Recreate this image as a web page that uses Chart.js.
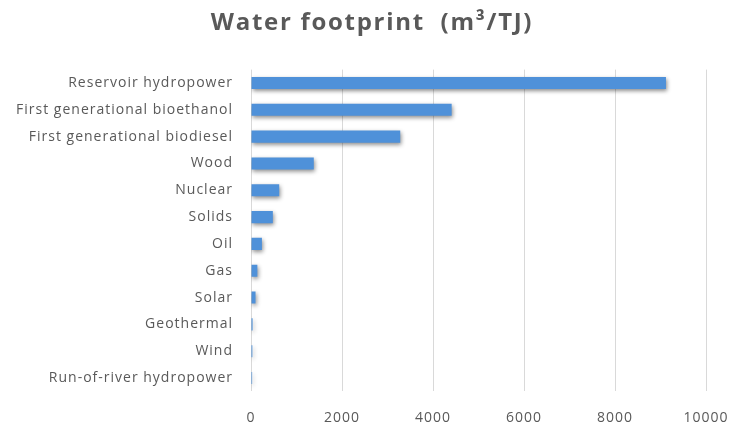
<!DOCTYPE html>
<html>
<head>
<meta charset="utf-8">
<script src="https://cdn.jsdelivr.net/npm/chart.js@4"></script>
<style>
  html, body { margin: 0; padding: 0; background: #ffffff; }
  #wrap { width: 731px; height: 426px; }
</style>
</head>
<body>
<div id="wrap"><canvas id="chart" width="731" height="426"></canvas></div>
<script>
// Water footprint per energy source, m³ per TJ
const sources = [
  'Reservoir hydropower',
  'First generational bioethanol',
  'First generational biodiesel',
  'Wood',
  'Nuclear',
  'Solids',
  'Oil',
  'Gas',
  'Solar',
  'Geothermal',
  'Wind',
  'Run-of-river hydropower'
];
const footprint = [9120, 4410, 3280, 1380, 620, 480, 240, 140, 100, 35, 30, 25];
const xTicks = [0, 2000, 4000, 6000, 8000, 10000];

const textColor = '#595959';
const gridColor = '#d9d9d9';

// loose letter spacing for axis labels, a bit wider for the title
const spacing = {
  id: 'spacing',
  afterLayout(chart) {
    const t = chart.titleBlock;
    if (t && !t._spaced) {
      const draw = t.draw.bind(t);
      t.draw = function (area) {
        const ctx = chart.ctx;
        ctx.save();
        ctx.letterSpacing = '1.7px';
        draw(area);
        ctx.restore();
      };
      t._spaced = true;
    }
  },
  beforeDraw(chart) {
    chart.ctx.letterSpacing = '1px';
  }
};

// soft drop shadow under each bar
const barShadow = {
  id: 'barShadow',
  beforeDatasetsDraw(chart) {
    const ctx = chart.ctx;
    ctx.save();
    ctx.shadowColor = 'rgba(0,0,0,0.45)';
    ctx.shadowBlur = 4;
    ctx.shadowOffsetX = 1;
    ctx.shadowOffsetY = 2;
  },
  afterDatasetsDraw(chart) {
    chart.ctx.restore();
  }
};

new Chart(document.getElementById('chart'), {
  type: 'bar',
  data: {
    labels: sources,
    datasets: [{
      data: footprint,
      backgroundColor: '#4f91d9',
      borderWidth: 0,
      categoryPercentage: 1.0,
      barPercentage: 0.45
    }]
  },
  plugins: [spacing, barShadow],
  options: {
    indexAxis: 'y',
    responsive: false,
    animation: false,
    layout: { padding: { left: 13, right: 0, top: 0, bottom: 0 } },
    plugins: {
      legend: { display: false },
      tooltip: { enabled: false },
      title: {
        display: true,
        text: 'Water footprint  (m³/TJ)',
        color: textColor,
        font: { family: 'Open Sans', size: 24, weight: 'bold', lineHeight: 1.2 },
        padding: { top: 8.6, bottom: 32.2 }
      }
    },
    scales: {
      x: {
        min: 0,
        max: 10000,
        afterBuildTicks(scale) { scale.ticks = xTicks.map(v => ({ value: v })); },
        afterFit(scale) {
          scale.height = 34.6;
          scale.paddingLeft = 0;
          scale.paddingRight = 25;
        },
        grid: { color: gridColor, lineWidth: 1, drawTicks: false },
        border: { display: false },
        ticks: {
          color: textColor,
          padding: 18,
          font: { family: 'Open Sans', size: 14 },
          maxRotation: 0,
          callback: v => String(v)
        }
      },
      y: {
        afterFit(scale) { scale.width = 238; },
        grid: { display: false, drawTicks: false },
        border: { display: false },
        ticks: {
          color: textColor,
          padding: 18,
          font: { family: 'Open Sans', size: 14 },
          autoSkip: false
        }
      }
    }
  }
});
</script>
</body>
</html>
